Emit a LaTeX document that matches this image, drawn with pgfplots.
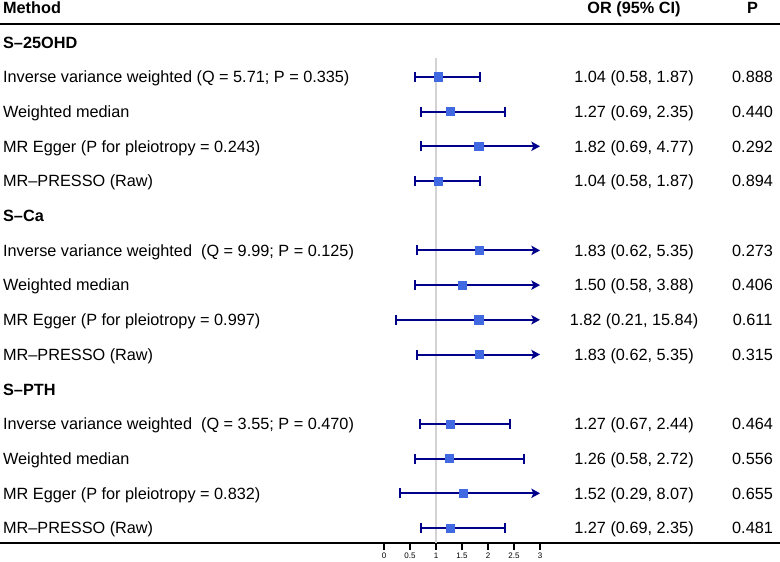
\documentclass[border=0pt]{standalone}
\usepackage{fontspec}
\setmainfont{Liberation Sans}
\usepackage{pgfplots}
\pgfplotsset{compat=1.18}
\usetikzlibrary{arrows.meta}

\definecolor{cibar}{HTML}{00008B}
\definecolor{box}{HTML}{4169E1}
\definecolor{refline}{HTML}{D3D3D3}

% confidence interval: y, lower, upper
\newcommand{\ci}[3]{\addplot[cibar, line width=1.5pt, {Bar[width=7.5pt]}-{Bar[width=7.5pt]}] coordinates {(#2,#1) (#3,#1)};}
% interval running past the axis end (3): drawn as arrow
\newcommand{\cia}[2]{\addplot[cibar, line width=1.5pt, {Bar[width=7.5pt]}-{Stealth[length=6.5pt,width=7pt,inset=1.5pt]}] coordinates {(#2,#1) (3,#1)};}
\newcommand{\txt}{\fontsize{12.2pt}{14pt}\selectfont}

\begin{document}
\begin{tikzpicture}
  \begin{axis}[
    scale only axis,
    width=585pt, height=407.25pt,
    xmin=-7.385, xmax=7.615,
    ymin=-543, ymax=0,
    axis x line*=bottom,
    axis y line=none,
    axis line style={line width=1.5pt, black},
    xtick={0,0.5,1,1.5,2,2.5,3},
    xticklabels={0,0.5,1,1.5,2,2.5,3},
    tick align=outside,
    major tick length=5pt,
    tick style={line width=1.2pt, black},
    xticklabel style={font=\fontsize{6pt}{6pt}\selectfont, inner sep=0pt, yshift=-2.5pt},
    clip=false,
  ]
    % reference line at OR = 1
    \addplot[refline, line width=1.5pt] coordinates {(1,-58) (1,-543)};
    % line under the header
    \draw[line width=1.5pt] (axis cs:-7.385,-24.3) -- (axis cs:7.615,-24.3);

    % S-25OHD
    \ci{-76.9}{0.58}{1.87}
    \ci{-111.6}{0.69}{2.35}
    \cia{-146.3}{0.69}
    \ci{-181.0}{0.58}{1.87}
    % S-Ca
    \cia{-250.4}{0.62}
    \cia{-285.1}{0.58}
    \cia{-319.8}{0.21}
    \cia{-354.5}{0.62}
    % S-PTH
    \ci{-423.9}{0.67}{2.44}
    \ci{-458.6}{0.58}{2.72}
    \cia{-493.3}{0.29}
    \ci{-528.0}{0.69}{2.35}

    \addplot[only marks, mark=square*, mark size=3.1pt, box] coordinates {
      (1.04,-76.9) (1.27,-111.6) (1.82,-146.3) (1.04,-181.0)
      (1.83,-250.4) (1.50,-285.1) (1.82,-319.8) (1.83,-354.5)
      (1.27,-423.9) (1.26,-458.6) (1.52,-493.3) (1.27,-528.0)
    };

    % left column
    \begin{scope}[every node/.style={anchor=base west, inner sep=0pt, font=\txt}]
      \node at (axis cs:-7.33,-13.35) {\bfseries Method};
      \node at (axis cs:-7.33,-48.05) {\bfseries S–25OHD};
      \node at (axis cs:-7.33,-82.75) {Inverse variance weighted (Q = 5.71; P = 0.335)};
      \node at (axis cs:-7.33,-117.45) {Weighted median};
      \node at (axis cs:-7.33,-152.15) {MR Egger (P for pleiotropy = 0.243)};
      \node at (axis cs:-7.33,-186.85) {MR–PRESSO (Raw)};
      \node at (axis cs:-7.33,-221.55) {\bfseries S–Ca};
      \node at (axis cs:-7.33,-256.25) {Inverse variance weighted\ \ (Q = 9.99; P = 0.125)};
      \node at (axis cs:-7.33,-290.95) {Weighted median};
      \node at (axis cs:-7.33,-325.65) {MR Egger (P for pleiotropy = 0.997)};
      \node at (axis cs:-7.33,-360.35) {MR–PRESSO (Raw)};
      \node at (axis cs:-7.33,-395.05) {\bfseries S–PTH};
      \node at (axis cs:-7.33,-429.75) {Inverse variance weighted\ \ (Q = 3.55; P = 0.470)};
      \node at (axis cs:-7.33,-464.45) {Weighted median};
      \node at (axis cs:-7.33,-499.15) {MR Egger (P for pleiotropy = 0.832)};
      \node at (axis cs:-7.33,-533.85) {MR–PRESSO (Raw)};
    \end{scope}

    % OR and P columns
    \begin{scope}[every node/.style={anchor=base, inner sep=0pt, font=\txt}]
      \node at (axis cs:4.808,-13.35) {\bfseries OR (95\% CI)};
      \node at (axis cs:7.087,-13.35) {\bfseries P};
      \node at (axis cs:4.808,-82.75) {1.04 (0.58, 1.87)};
      \node at (axis cs:7.087,-82.75) {0.888};
      \node at (axis cs:4.808,-117.45) {1.27 (0.69, 2.35)};
      \node at (axis cs:7.087,-117.45) {0.440};
      \node at (axis cs:4.808,-152.15) {1.82 (0.69, 4.77)};
      \node at (axis cs:7.087,-152.15) {0.292};
      \node at (axis cs:4.808,-186.85) {1.04 (0.58, 1.87)};
      \node at (axis cs:7.087,-186.85) {0.894};
      \node at (axis cs:4.808,-256.25) {1.83 (0.62, 5.35)};
      \node at (axis cs:7.087,-256.25) {0.273};
      \node at (axis cs:4.808,-290.95) {1.50 (0.58, 3.88)};
      \node at (axis cs:7.087,-290.95) {0.406};
      \node at (axis cs:4.808,-325.65) {1.82 (0.21, 15.84)};
      \node at (axis cs:7.087,-325.65) {0.611};
      \node at (axis cs:4.808,-360.35) {1.83 (0.62, 5.35)};
      \node at (axis cs:7.087,-360.35) {0.315};
      \node at (axis cs:4.808,-429.75) {1.27 (0.67, 2.44)};
      \node at (axis cs:7.087,-429.75) {0.464};
      \node at (axis cs:4.808,-464.45) {1.26 (0.58, 2.72)};
      \node at (axis cs:7.087,-464.45) {0.556};
      \node at (axis cs:4.808,-499.15) {1.52 (0.29, 8.07)};
      \node at (axis cs:7.087,-499.15) {0.655};
      \node at (axis cs:4.808,-533.85) {1.27 (0.69, 2.35)};
      \node at (axis cs:7.087,-533.85) {0.481};
    \end{scope}
  \end{axis}
  \pgfresetboundingbox
  \path (0,-13.5pt) rectangle (585pt,407.25pt);
\end{tikzpicture}
\end{document}
